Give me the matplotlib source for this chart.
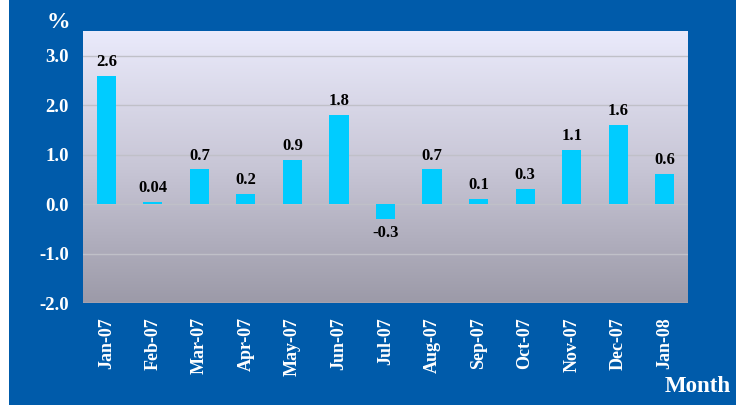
import numpy as np
import matplotlib.pyplot as plt
from matplotlib.colors import LinearSegmentedColormap

months = ["Jan-07", "Feb-07", "Mar-07", "Apr-07", "May-07", "Jun-07", "Jul-07",
          "Aug-07", "Sep-07", "Oct-07", "Nov-07", "Dec-07", "Jan-08"]
values = [2.6, 0.04, 0.7, 0.2, 0.9, 1.8, -0.3, 0.7, 0.1, 0.3, 1.1, 1.6, 0.6]
labels = ["2.6", "0.04", "0.7", "0.2", "0.9", "1.8", "-0.3", "0.7", "0.1", "0.3", "1.1", "1.6", "0.6"]
yticks = [-2.0, -1.0, 0.0, 1.0, 2.0, 3.0]

blue = "#005BAA"
serif = ["Liberation Serif", "DejaVu Serif"]

fig = plt.figure(figsize=(7.46, 4.05), dpi=100)
fig.patch.set_facecolor("white")
# blue panel behind everything
fig.patches.append(plt.Rectangle((9 / 746, 0), 727 / 746, 1, transform=fig.transFigure,
                                 facecolor=blue, edgecolor="none", zorder=-10))

ax = fig.add_axes([83 / 746, 1 - 303 / 405, 605 / 746, 272 / 405])
ax.set_xlim(-0.5, len(months) - 0.5)
ax.set_ylim(-2.0, 3.5)

# gradient background of the plot area
grad = LinearSegmentedColormap.from_list("bg", ["#9C9AA8", "#C8C6D6", "#EAEAFB"])
ax.imshow(np.linspace(0, 1, 256).reshape(-1, 1), aspect="auto", cmap=grad,
          extent=[-0.5, len(months) - 0.5, -2.0, 3.5], origin="lower", zorder=0)

for y in yticks:
    ax.axhline(y, color="#C0C0C8", lw=1.0, zorder=1)

x = np.arange(len(months))
ax.bar(x, values, width=0.41, color="#00CCFF", zorder=2)

for xi, v, lab in zip(x, values, labels):
    if v >= 0:
        ax.text(xi, v + 0.12, lab, ha="center", va="bottom", fontsize=12,
                fontweight="bold", family=serif, color="black", zorder=3)
    else:
        ax.text(xi, v - 0.12, lab, ha="center", va="top", fontsize=12,
                fontweight="bold", family=serif, color="black", zorder=3)

for s in ax.spines.values():
    s.set_visible(False)

ax.set_yticks(yticks)
ax.set_yticklabels([f"{t:.1f}" for t in yticks], fontsize=13.5, fontweight="bold",
                   family=serif, color="white")
ax.set_xticks(x)
ax.set_xticklabels(months, rotation=90, fontsize=13, fontweight="bold",
                   family=serif, color="white")
ax.tick_params(length=0, pad=10)
ax.tick_params(axis="x", pad=10)

fig.text(58 / 746, 1 - 22 / 405, "%", fontsize=17, fontweight="bold", family=serif,
         color="white", ha="center", va="center")
fig.text(698 / 746, 1 - 387 / 405, "Month", fontsize=16.5, fontweight="bold", family=serif,
         color="white", ha="center", va="center")

fig.savefig("out.png", dpi=100, facecolor=fig.get_facecolor())
